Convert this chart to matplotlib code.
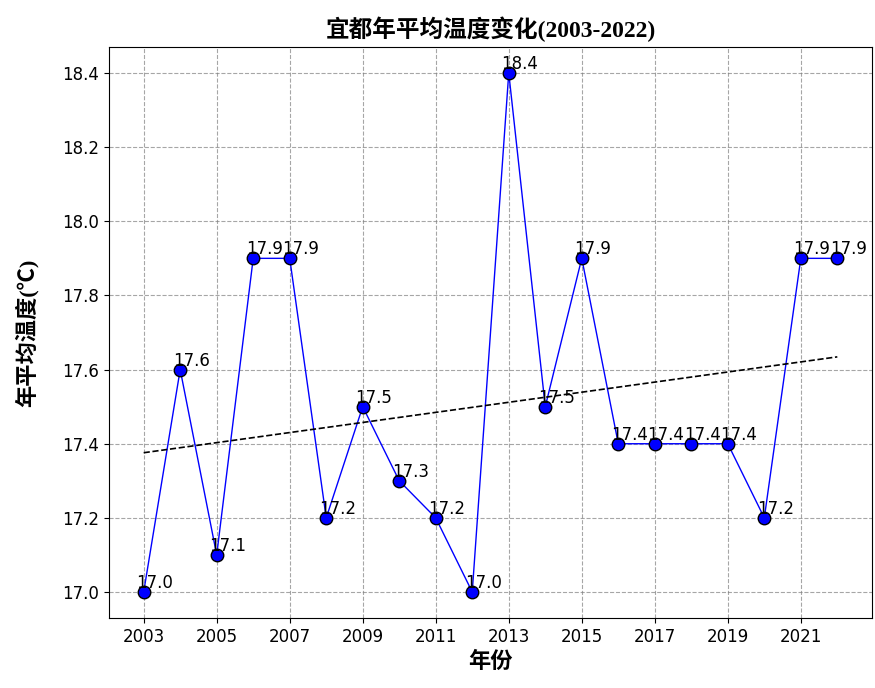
import numpy as np
import matplotlib.pyplot as plt

years = [2003, 2004, 2005, 2006, 2007, 2008, 2009, 2010, 2011, 2012,
         2013, 2014, 2015, 2016, 2017, 2018, 2019, 2020, 2021, 2022]
temps = [17.0, 17.6, 17.1, 17.9, 17.9, 17.2, 17.5, 17.3, 17.2, 17.0,
         18.4, 17.5, 17.9, 17.4, 17.4, 17.4, 17.4, 17.2, 17.9, 17.9]

cjk = ['Liberation Serif', 'Noto Sans CJK SC', 'DejaVu Sans']

fig = plt.figure(figsize=(8.75, 6.88), dpi=100)
ax = fig.add_axes([109 / 875, 1 - 618 / 688, (872 - 109) / 875, (618 - 47) / 688])

ax.plot(years, temps, color='blue', linewidth=1, marker='o', markersize=9,
        markerfacecolor='blue', markeredgecolor='black')

# linear trend
coef = np.polyfit(years, temps, 1)
ax.plot(years, np.polyval(coef, years), 'k--', linewidth=1.2)

for x, y in zip(years, temps):
    ax.text(x - 0.2, y, f'{y:.1f}', ha='left', va='bottom', fontsize=12)

ax.set_xticks(years[::2])
ax.tick_params(labelsize=12)
ax.grid(True, linestyle='--', color='gray', alpha=0.7)

ax.set_title('宜都年平均温度变化(2003-2022)', family=cjk, fontsize=17, fontweight='bold', pad=7)
ax.set_xlabel('年份', family=cjk, fontsize=16, fontweight='bold')
ax.set_ylabel('年平均温度(℃)', family=cjk, fontsize=16, fontweight='bold', labelpad=17)

fig.savefig('out.png', dpi=100)
